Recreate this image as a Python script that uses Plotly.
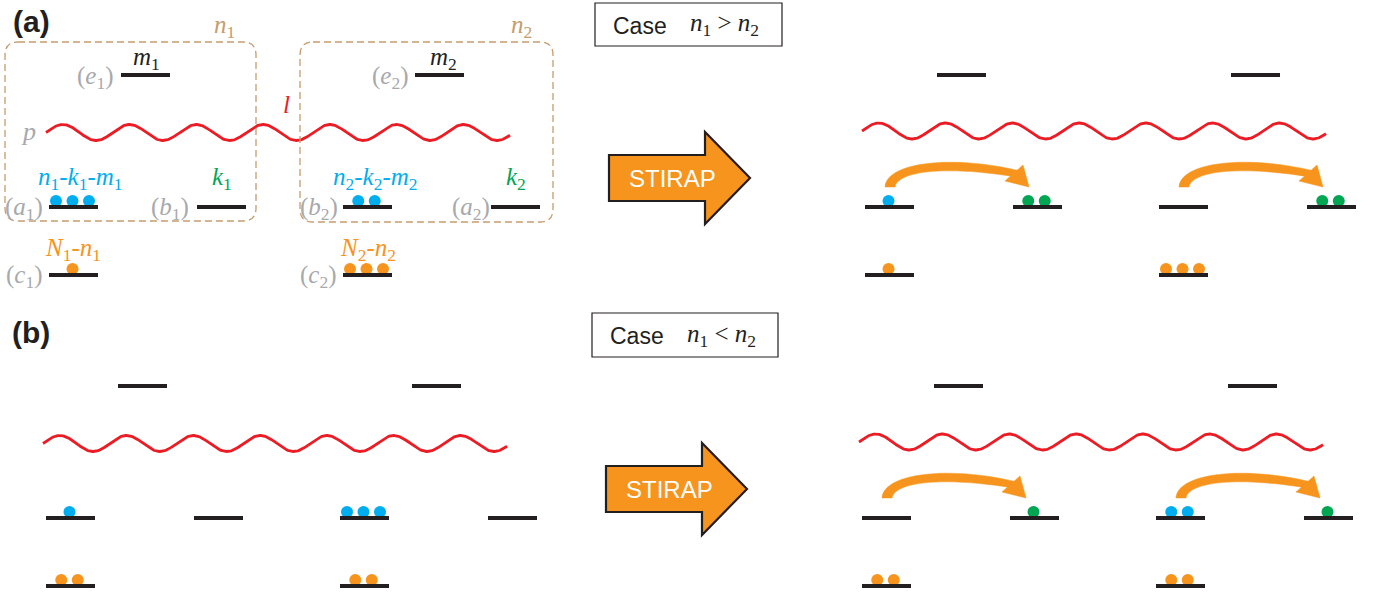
import numpy as np
import plotly.graph_objects as go

W, H = 1387, 600

# ---- data -------------------------------------------------------------
# four level diagrams: (a) before, (a) after, (b) before, (b) after
panel_x = [49, 865, 46, 862]          # left ground level of the first atom
panel_dy = [0, 0, 311, 311]           # vertical shift of each diagram
atom_dx = [0, 294]                    # second atom sits to the right

# levels inside one atom: left ground, right ground, excited, reservoir
level_dx = [0, 148, 72, 0]
level_y = [207, 207, 75, 275]
level_w = 49

# populations per diagram and atom
blue_left = [[3, 2], [1, 0], [1, 3], [0, 2]]
green_right = [[0, 0], [2, 2], [0, 0], [1, 1]]
orange_res = [[1, 3], [1, 3], [2, 2], [2, 2]]
after_panels = [1, 3]

# photon line
wave_dx0, wave_len = -3, 464
wave_y, wave_amp, wave_period = 132.5, 8.0, 66.8

# STIRAP block arrows (left x, centre y)
stirap_x = [609, 606]
stirap_y = [178, 489]

# colours
BLACK = "#231f20"
CYAN = "#00aeef"
GREEN = "#00a651"
ORANGE = "#f7941d"
RED = "#ed1c24"
GRAY = "#a7a9ac"
TAN = "#c69c6d"

fig = go.Figure()
shapes = []
annotations = []

# ---- energy levels -------------------------------------------------------
for p in range(4):
    for a in range(2):
        x0 = panel_x[p] + atom_dx[a]
        for lv in range(4):
            xs = x0 + level_dx[lv]
            y = level_y[lv] + panel_dy[p]
            shapes.append(dict(type="line", xref="x", yref="y",
                               x0=xs, x1=xs + level_w, y0=y, y1=y,
                               line=dict(color=BLACK, width=4)))

# ---- populations -------------------------------------------------------
def dots(n, xs, y):
    c = xs + 23.5
    return [c + 16.5 * (i - (n - 1) / 2) for i in range(n)], [y - 6] * n

for counts, lv, col in [(blue_left, 0, CYAN), (green_right, 1, GREEN),
                        (orange_res, 3, ORANGE)]:
    xx, yy = [], []
    for p in range(4):
        for a in range(2):
            x0 = panel_x[p] + atom_dx[a] + level_dx[lv]
            dx, dy = dots(counts[p][a], x0, level_y[lv] + panel_dy[p])
            xx += dx
            yy += dy
    fig.add_trace(go.Scatter(x=xx, y=yy, mode="markers", hoverinfo="skip",
                             marker=dict(size=12, color=col, line=dict(width=0)),
                             showlegend=False))

# ---- photon lines ------------------------------------------------------
for p in range(4):
    xs = panel_x[p] + wave_dx0
    yc = wave_y + panel_dy[p] - (1.5 if p % 2 else 0)
    xw = np.linspace(xs, xs + wave_len, 600)
    yw = yc - wave_amp * np.sin(2 * np.pi * (xw - xs) / wave_period)
    fig.add_trace(go.Scatter(x=xw, y=yw, mode="lines", hoverinfo="skip",
                             line=dict(color=RED, width=2.8), showlegend=False))

# ---- transfer arrows in the "after" diagrams -------------------------------
for p in after_panels:
    for a in range(2):
        x0 = panel_x[p] + atom_dx[a]
        dy = panel_dy[p]
        sx, sy = x0 + 25, 187 + dy
        tx, ty = x0 + 164, 187 + dy
        body = (f"M {sx - 5},{sy} "
                f"C {sx - 4},{dy + 163} {sx + 60},{dy + 154} {tx - 9},{dy + 171} "
                f"L {tx - 13},{dy + 177} "
                f"C {sx + 60},{dy + 166} {sx + 8},{dy + 170} {sx + 5},{sy} Z")
        shapes.append(dict(type="path", xref="x", yref="y", path=body,
                           fillcolor=ORANGE, line=dict(color=ORANGE, width=0.5)))
        head = (f"M {tx},{ty} L {tx - 6},{ty - 22} L {tx - 24},{ty - 6} Z")
        shapes.append(dict(type="path", xref="x", yref="y", path=head,
                           fillcolor=ORANGE, line=dict(color=ORANGE, width=0.5)))

# ---- STIRAP block arrows -------------------------------------------------
for bx, by in zip(stirap_x, stirap_y):
    path = (f"M {bx},{by - 23} L {bx + 96},{by - 23} L {bx + 96},{by - 46} "
            f"L {bx + 141},{by} L {bx + 96},{by + 46} L {bx + 96},{by + 23} "
            f"L {bx},{by + 23} Z")
    shapes.append(dict(type="path", xref="x", yref="y", path=path,
                       fillcolor=ORANGE, line=dict(color=BLACK, width=2.2)))
    annotations.append(dict(x=bx + 63, y=by, text="STIRAP", showarrow=False,
                            xref="x", yref="y", xanchor="center", yanchor="middle",
                            font=dict(family="Liberation Sans", size=24, color="white")))

# ---- case boxes --------------------------------------------------------
case_boxes = [(595, 3, 782, 46, "&gt;"), (592, 313, 778, 357, "&lt;")]
for x0, y0, x1, y1, rel in case_boxes:
    shapes.append(dict(type="rect", xref="x", yref="y", x0=x0, x1=x1, y0=y0, y1=y1,
                       line=dict(color=BLACK, width=1.2), fillcolor="white"))
    yc = (y0 + y1) / 2
    annotations.append(dict(x=x0 + 45, y=yc + 1, text="Case", showarrow=False,
                            xref="x", yref="y", xanchor="center", yanchor="middle",
                            font=dict(family="Liberation Sans", size=23, color=BLACK)))
    annotations.append(dict(x=x0 + 129, y=yc, showarrow=False,
                            text=f"<i>n</i><sub>1</sub> {rel} <i>n</i><sub>2</sub>",
                            xref="x", yref="y", xanchor="center", yanchor="middle",
                            font=dict(family="Liberation Serif", size=25, color=BLACK)))

# ---- dashed groupings in (a) -------------------------------------------
def rounded(x0, y0, x1, y1, r):
    return (f"M {x0 + r},{y0} L {x1 - r},{y0} Q {x1},{y0} {x1},{y0 + r} "
            f"L {x1},{y1 - r} Q {x1},{y1} {x1 - r},{y1} L {x0 + r},{y1} "
            f"Q {x0},{y1} {x0},{y1 - r} L {x0},{y0 + r} Q {x0},{y0} {x0 + r},{y0} Z")

for bx0, by0, bx1, by1 in [(5, 42, 256, 221), (300, 42, 553, 222)]:
    shapes.append(dict(type="path", xref="x", yref="y",
                       path=rounded(bx0, by0, bx1, by1, 13),
                       line=dict(color=TAN, width=1.3, dash="7px,4px")))

# ---- labels in (a) -------------------------------------------------------
def sub(sym, i):
    return f"<i>{sym}</i><sub>{i}</sub>"

SERIF = "Liberation Serif"
FS = 25
labels = [
    ("<b>(a)</b>", 31, 21, BLACK, "Liberation Sans", 30),
    ("<b>(b)</b>", 31, 332, BLACK, "Liberation Sans", 30),
    (sub("n", 1), 224, 26, TAN, SERIF, FS),
    (sub("n", 2), 521, 26, TAN, SERIF, FS),
    (sub("m", 1), 146, 58, BLACK, SERIF, FS),
    (sub("m", 2), 443, 58, BLACK, SERIF, FS),
    ("(" + sub("e", 1) + ")", 95, 77, GRAY, SERIF, FS),
    ("(" + sub("e", 2) + ")", 390, 77, GRAY, SERIF, FS),
    ("<i>p</i>", 28, 131, GRAY, SERIF, FS + 1),
    ("<i>l</i>", 286, 104, RED, SERIF, FS),
    (sub("n", 1) + "-" + sub("k", 1) + "-" + sub("m", 1), 80, 178, CYAN, SERIF, FS),
    (sub("n", 2) + "-" + sub("k", 2) + "-" + sub("m", 2), 375, 178, CYAN, SERIF, FS),
    (sub("k", 1), 222, 178, GREEN, SERIF, FS),
    (sub("k", 2), 516, 178, GREEN, SERIF, FS),
    ("(" + sub("a", 1) + ")", 24, 208, GRAY, SERIF, FS),
    ("(" + sub("b", 1) + ")", 170, 208, GRAY, SERIF, FS),
    ("(" + sub("b", 2) + ")", 319, 208, GRAY, SERIF, FS),
    ("(" + sub("a", 2) + ")", 471, 208, GRAY, SERIF, FS),
    (sub("N", 1) + "-" + sub("n", 1), 73, 249, ORANGE, SERIF, FS),
    (sub("N", 2) + "-" + sub("n", 2), 368, 249, ORANGE, SERIF, FS),
    ("(" + sub("c", 1) + ")", 24, 276, GRAY, SERIF, FS),
    ("(" + sub("c", 2) + ")", 318, 276, GRAY, SERIF, FS),
]
for text, x, y, col, fam, size in labels:
    annotations.append(dict(x=x, y=y, text=text, showarrow=False,
                            xref="x", yref="y", xanchor="center", yanchor="middle",
                            font=dict(family=fam, size=size, color=col)))

fig.update_layout(
    width=W, height=H, autosize=False,
    margin=dict(l=0, r=0, t=0, b=0),
    paper_bgcolor="white", plot_bgcolor="white",
    xaxis=dict(range=[0, W], visible=False, fixedrange=True),
    yaxis=dict(range=[H, 0], visible=False, fixedrange=True),
    shapes=shapes, annotations=annotations, showlegend=False,
)

fig.write_html("out.html", config={"displayModeBar": False})
